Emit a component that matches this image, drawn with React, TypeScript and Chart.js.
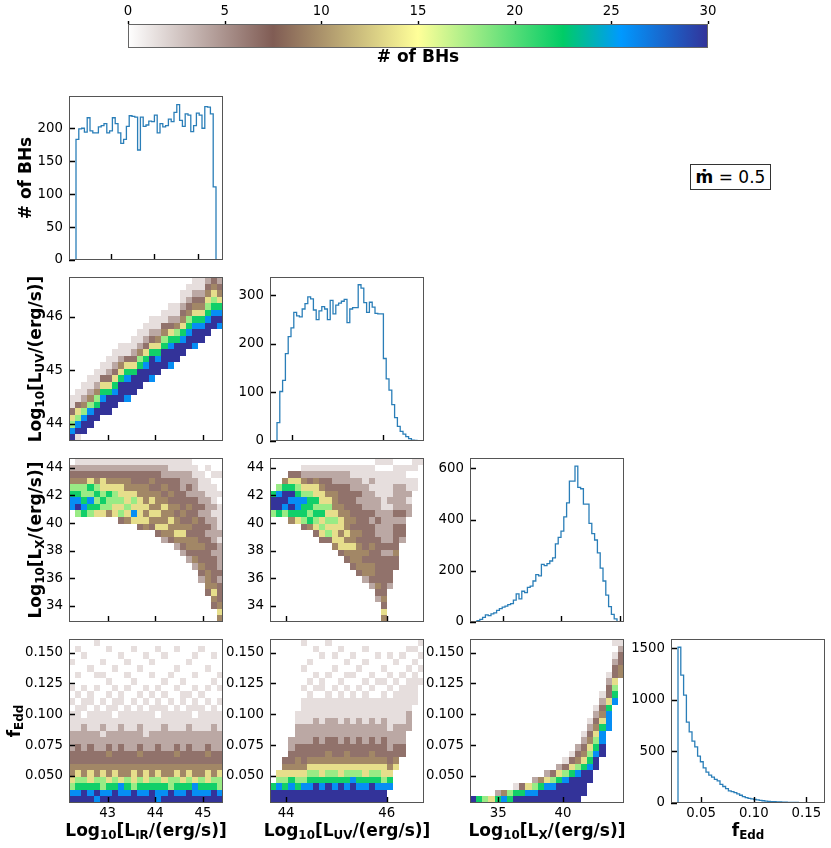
import React, { useEffect, useRef } from "react";
import Chart from "chart.js/auto";

Chart.defaults.font.family = "'DejaVu Sans', sans-serif";
Chart.defaults.font.size = 13.3;
Chart.defaults.color = "#000";

// value ranges (first and last bin edge) of the four quantities
const irRange = [42.19, 45.42];
const uvRange = [43.68, 46.74];
const lxRange = [32.82, 44.72];
const feddRange = [0.028, 0.161];

// 1D histograms (50 bins over the ranges above)
const irHist = [
  183, 199, 200, 194, 216, 196, 193, 193, 202, 204, 207, 193, 196, 216, 207, 193, 177, 183, 203, 219,
  218, 217, 167, 217, 203, 205, 211, 210, 220, 193, 207, 202, 204, 214, 210, 224, 236, 212, 203, 222,
  220, 195, 204, 223, 220, 200, 233, 232, 222, 111,
];
const uvHist = [
  38, 102, 125, 180, 215, 233, 265, 258, 256, 272, 283, 297, 293, 270, 250, 268, 277, 272, 250, 290,
  262, 280, 284, 288, 292, 244, 272, 275, 275, 322, 315, 285, 265, 286, 276, 263, 262, 262, 170, 128,
  105, 75, 48, 30, 20, 14, 9, 5, 2, 1,
];
const lxHist = [
  5, 10, 18, 28, 25, 32, 36, 45, 52, 58, 62, 68, 72, 85, 110, 90, 120, 115, 135, 140,
  160, 185, 180, 225, 220, 228, 238, 250, 305, 330, 355, 410, 465, 550, 550, 608, 525, 520, 460, 460,
  385, 345, 320, 270, 210, 160, 105, 60, 30, 12,
];
const feddHist = [
  1510, 1240, 1045, 785, 690, 600, 545, 455, 400, 340, 300, 270, 250, 230, 215, 180, 160, 140, 118, 110,
  100, 88, 75, 62, 52, 45, 40, 34, 30, 26, 22, 19, 16, 14, 12, 11, 10, 9, 8, 7,
  6, 5, 5, 4, 3, 3, 2, 2, 1, 1,
];
const histTops = { ir: 249, uv: 338, lx: 640, fedd: 1590 };

// ticks and their labels
const irTicks = [43, 44, 45];
const irTickLabels = ["43", "44", "45"];
const uvTicksX = [44, 46];
const uvTickLabelsX = ["44", "46"];
const uvTicksY = [44, 45, 46];
const uvTickLabelsY = ["44", "45", "46"];
const lxTicksX = [35, 40];
const lxTickLabelsX = ["35", "40"];
const lxHistTicks = [35, 40, 45];
const lxTicksY = [34, 36, 38, 40, 42, 44];
const lxTickLabelsY = ["34", "36", "38", "40", "42", "44"];
const feddTicksY = [0.05, 0.075, 0.1, 0.125, 0.15];
const feddTickLabelsY = ["0.050", "0.075", "0.100", "0.125", "0.150"];
const feddTicksX = [0.05, 0.1, 0.15];
const feddTickLabelsX = ["0.05", "0.10", "0.15"];
const irCountTicks = [0, 50, 100, 150, 200];
const uvCountTicks = [0, 100, 200, 300];
const lxCountTicks = [0, 200, 400, 600];
const feddCountTicks = [0, 500, 1000, 1500];
const cbarTicks = [0, 5, 10, 15, 20, 25, 30];

// 2D histograms, 25 x 25 cells. A digit is a colour level (see levelCounts).
// "Cols" grids: one string per x bin, read from the bottom y bin upward.
const levelCounts = [0, 1.5, 4, 6.5, 9.5, 13.5, 18, 22, 26, 30];

const uvVsIrCols = [
  "9865311", "19865311", "099864211", "0099864211", "00099764211",
  "000099875311", "0000999753211", "00000998753211", "000000999754211", "000000899875311",
  "0000000999753211", "00000000999764211", "000000000998753211", "0000000008999753211", "0000000000998754211",
  "00000000000999764311", "000000000008998753211", "000000000000999764211", "00000000000009987543211", "000000000000009987643211",
  "0000000000000089987543211", "0000000000000009987543211", "0000000000000000998765432", "0000000000000000099876543", "0000000000000000089875432",
];

const lxVsIrCols = [
  "0000000000000000088764320", "0000000000000000698764321", "0000000000000000787664321", "0000000000000000678675321", "0000000000000000576764321",
  "0000000000000000567655321", "0000000000000000466754321", "0000000000000000556654321", "0000000000000003656554321", "0000000000000004565544321",
  "0000000000000005856543321", "0000000000000035555443321", "0000000000000045454443321", "0000000000000034545434321", "0000000000000354544433321",
  "0000000000002454454343221", "0000000000003445443433211", "0000000000024544343333211", "0000000000234543433322211", "0000000002344343343232211",
  "0000000024344334333222110", "0000002343343333232211100", "0000344433333232222111010", "0034543333232222121110100", "4543332322221211110100100",
];

const lxVsUvCols = [
  "00000000000000006997", "000000000000000079986", "0000000000000000689974", "00000000000000047989753", "00000000000000057887653",
  "000000000000003677865421", "000000000000004767765321", "0000000000000356767554210", "000000000000356576554321", "000000000000365656543321",
  "000000000004555654443221", "000000000035545544333221", "000000000345454443333221", "000000003445443433332211", "000000034444343333232211",
  "000000244343333332222111", "0000023443343332322212110", "0002343333333223222111101", "4534333333232222211111101", "0000023333232222212111101",
  "0000000033433332322221110", "0000000000002332322221110", "0000000000000000221211010", "0000000000000000000011011", "0000000000000000000000001",
];

const feddVsIrCols = [
  "9865443322211101010001000", "9876543332211110100100010", "9976443322221011010000100", "9875543332211101100010000", "8976443322211110010100001",
  "9866543322121101000101000", "9875443432211110101000010", "9976543322211011010010000", "9885443332221101100000100", "9876443322211110010101000",
  "9965543322211101001000010", "9876443432221110100010000", "9875543322111101010000100", "9976443322211110100101000", "8876543332211011010000010",
  "9875443322221110101000100", "9966443322211101000100000", "9876543432211110010010010", "9875443322211101101000000", "9976543332221110100001000",
  "9885443322211011010100100", "9876443322211110100000010", "9875543432211101010010000", "9976443322221110001000100", "9866543322211101010100000",
];

const feddVsUvCols = [
  "997", "99865", "9976543", "9987543322", "99765443322211",
  "9986543332221111010010001", "9987654332221111101001000", "9997654333222111010100010", "9987554332221111011000100", "9997654433222111100100001",
  "9987654333222111010010100", "9997554332221111101000010", "9987654433222111010101000", "9998654332221111100100100", "9987654333222111010010000",
  "9987554332221111101001010", "9997654433222111010100000", "9987654332221111001000100", "9986554333222111101010000", "0087543322211111010100100",
  "0000054332221111101001000", "0000000332221111110100100", "0000000000022211111010010", "0000000000000001111101010", "0000000000000000001010101",
];

// "Rows" grid: one string per y bin (bottom first), read from the left x bin rightward.
const feddVsLxRows = [
  "9765787999999999990000000", "0000246778899999999000000", "0000000135678899999000000", "0000000000245678999900000", "0000000000002356789900000",
  "0000000000000023567890000", "0000000000000001345790000", "0000000000000000134689000", "0000000000000000023579000", "0000000000000000002468000",
  "0000000000000000001358000", "0000000000000000000247800", "0000000000000000000135800", "0000000000000000000024800", "0000000000000000000013700",
  "0000000000000000000002580", "0000000000000000000001370", "0000000000000000000000360", "0000000000000000000000250", "0000000000000000000000134",
  "0000000000000000000000034", "0000000000000000000000023", "0000000000000000000000013", "0000000000000000000000002", "0000000000000000000000011",
];

// ---------- layout ----------
const colLeft = [69, 270, 470, 671];
const rowTop = [96, 277, 458, 639];
const PW = 154;
const PH = 164;
const AXIS_W = 62;
const AXIS_H = 24;
const PAD_T = 16;
const PAD_R = 20;
const NBIN2D = 25;

// terrain_r colour map
const CMAP: [number, number[]][] = [
  [0, [255, 255, 255]],
  [0.25, [128, 92, 84]],
  [0.5, [255, 255, 153]],
  [0.75, [0, 204, 102]],
  [0.85, [0, 153, 255]],
  [1, [51, 51, 153]],
];

function cmap(v: number) {
  const t = Math.min(1, Math.max(0, v));
  for (let i = 1; i < CMAP.length; i++) {
    const [p0, c0] = CMAP[i - 1];
    const [p1, c1] = CMAP[i];
    if (t <= p1) {
      const f = (t - p0) / (p1 - p0);
      const c = c0.map((a, k) => Math.round(a + (c1[k] - a) * f));
      return `rgb(${c[0]},${c[1]},${c[2]})`;
    }
  }
  return "rgb(51,51,153)";
}

const toCols = (rows: string[]) =>
  Array.from({ length: NBIN2D }, (_, c) => rows.map((r) => r[c] || "0").join(""));

const withMargin = (r: number[]) => {
  const m = (r[1] - r[0]) * 0.05;
  return [r[0] - m, r[1] + m];
};

function stepPoints(counts: number[], lo: number, hi: number) {
  const w = (hi - lo) / counts.length;
  const pts = [{ x: lo, y: 0 }];
  counts.forEach((c, i) => {
    pts.push({ x: lo + i * w, y: c });
    pts.push({ x: lo + (i + 1) * w, y: c });
  });
  pts.push({ x: hi, y: 0 });
  return pts;
}

// frame and inward tick marks
function framePlugin(xTicks: number[], yTicks: number[]) {
  return {
    id: "frame",
    afterDraw(chart: any) {
      const { ctx, chartArea: a, scales } = chart;
      ctx.save();
      ctx.strokeStyle = "#000";
      ctx.lineWidth = 1.4;
      ctx.beginPath();
      xTicks.forEach((v) => {
        const x = Math.round(scales.x.getPixelForValue(v)) + 0.5;
        ctx.moveTo(x, a.bottom);
        ctx.lineTo(x, a.bottom - 6);
      });
      yTicks.forEach((v) => {
        const y = Math.round(scales.y.getPixelForValue(v)) + 0.5;
        ctx.moveTo(a.left, y);
        ctx.lineTo(a.left + 6, y);
      });
      ctx.stroke();
      ctx.strokeStyle = "#555";
      ctx.lineWidth = 1;
      ctx.strokeRect(a.left + 0.5, a.top + 0.5, a.right - a.left - 1, a.bottom - a.top - 1);
      ctx.restore();
    },
  };
}

function heatPlugin(cols: string[], xr: number[], yr: number[]) {
  return {
    id: "heat",
    beforeDatasetsDraw(chart: any) {
      const { ctx, chartArea: a, scales } = chart;
      const dx = (xr[1] - xr[0]) / NBIN2D;
      const dy = (yr[1] - yr[0]) / NBIN2D;
      ctx.save();
      ctx.beginPath();
      ctx.rect(a.left, a.top, a.right - a.left, a.bottom - a.top);
      ctx.clip();
      cols.forEach((col, c) => {
        const s = col.padEnd(NBIN2D, "0");
        for (let j = 0; j < NBIN2D; j++) {
          const lv = Number(s[j]);
          if (!lv) continue;
          const l = Math.round(scales.x.getPixelForValue(xr[0] + c * dx));
          const r = Math.round(scales.x.getPixelForValue(xr[0] + (c + 1) * dx));
          const t = Math.round(scales.y.getPixelForValue(yr[0] + (j + 1) * dy));
          const b = Math.round(scales.y.getPixelForValue(yr[0] + j * dy));
          ctx.fillStyle = cmap(levelCounts[lv] / 30);
          ctx.fillRect(l, t, r - l, b - t);
        }
      });
      ctx.restore();
    },
  };
}

function axes(
  xr: number[], yr: number[],
  xTicks: number[], xLabels: string[] | null,
  yTicks: number[], yLabels: string[]
) {
  return {
    x: {
      type: "linear",
      min: xr[0],
      max: xr[1],
      afterBuildTicks: (s: any) => { s.ticks = xTicks.map((v) => ({ value: v })); },
      afterFit: (s: any) => { s.height = AXIS_H; },
      grid: { display: false, drawTicks: false },
      border: { display: false },
      ticks: {
        display: !!xLabels,
        padding: 3,
        autoSkip: false,
        maxRotation: 0,
        callback: (_v: any, i: number) => (xLabels ? xLabels[i] : ""),
      },
    },
    y: {
      type: "linear",
      min: yr[0],
      max: yr[1],
      afterBuildTicks: (s: any) => { s.ticks = yTicks.map((v) => ({ value: v })); },
      afterFit: (s: any) => { s.width = AXIS_W; },
      grid: { display: false, drawTicks: false },
      border: { display: false },
      ticks: { padding: 6, autoSkip: false, callback: (_v: any, i: number) => yLabels[i] },
    },
  };
}

const common = {
  responsive: false,
  animation: false,
  events: [],
  layout: { padding: { top: PAD_T, right: PAD_R, left: 0, bottom: 0 } },
  plugins: { legend: { display: false }, tooltip: { enabled: false } },
};

function histConfig(
  counts: number[], range: number[], top: number,
  xTicks: number[], xLabels: string[] | null,
  yTicks: number[]
) {
  return {
    type: "line",
    data: {
      datasets: [
        {
          data: stepPoints(counts, range[0], range[1]),
          borderColor: "rgba(31,119,180,0.95)",
          borderWidth: 1.3,
          pointRadius: 0,
          fill: false,
          tension: 0,
        },
      ],
    },
    options: {
      ...common,
      scales: axes(withMargin(range), [0, top], xTicks, xLabels, yTicks, yTicks.map(String)),
    },
    plugins: [framePlugin(xTicks, yTicks)],
  };
}

function heatConfig(
  cols: string[], xr: number[], yr: number[],
  xTicks: number[], xLabels: string[] | null,
  yTicks: number[], yLabels: string[]
) {
  return {
    type: "scatter",
    data: { datasets: [] },
    options: { ...common, scales: axes(xr, yr, xTicks, xLabels, yTicks, yLabels) },
    plugins: [heatPlugin(cols, xr, yr), framePlugin(xTicks, yTicks)],
  };
}

const Panel: React.FC<{ col: number; row: number; make: () => any }> = ({ col, row, make }) => {
  const canvasRef = useRef<HTMLCanvasElement | null>(null);
  useEffect(() => {
    if (!canvasRef.current) return;
    const chart = new Chart(canvasRef.current, make());
    return () => chart.destroy();
  }, []);
  const w = AXIS_W + PW + PAD_R;
  const h = PAD_T + PH + AXIS_H;
  return (
    <canvas
      ref={canvasRef}
      width={w}
      height={h}
      style={{ position: "absolute", left: colLeft[col] - AXIS_W, top: rowTop[row] - PAD_T, width: w, height: h }}
    />
  );
};

const ColorBar: React.FC = () => {
  const canvasRef = useRef<HTMLCanvasElement | null>(null);
  useEffect(() => {
    if (!canvasRef.current) return;
    const chart = new Chart(canvasRef.current, {
      type: "scatter",
      data: { datasets: [] },
      options: {
        responsive: false,
        animation: false,
        events: [],
        layout: { padding: { top: 0, right: 30, left: 30, bottom: 12 } },
        plugins: { legend: { display: false }, tooltip: { enabled: false } },
        scales: {
          x: {
            type: "linear",
            position: "top",
            min: 0,
            max: 30,
            afterBuildTicks: (s: any) => { s.ticks = cbarTicks.map((v) => ({ value: v })); },
            afterFit: (s: any) => { s.height = 24; },
            grid: { display: false, drawTicks: false },
            border: { display: false },
            ticks: { padding: 4, maxRotation: 0, autoSkip: false },
          },
          y: { display: false, min: 0, max: 1 },
        },
      } as any,
      plugins: [
        {
          id: "cbar",
          afterDraw(c: any) {
            const { ctx, chartArea: a, scales } = c;
            const x0 = scales.x.getPixelForValue(0);
            const x1 = scales.x.getPixelForValue(30);
            const g = ctx.createLinearGradient(x0, 0, x1, 0);
            CMAP.forEach(([p]) => g.addColorStop(p, cmap(p)));
            ctx.save();
            ctx.fillStyle = g;
            ctx.fillRect(a.left, a.top, a.right - a.left, a.bottom - a.top);
            ctx.strokeStyle = "#666";
            ctx.lineWidth = 1;
            ctx.strokeRect(a.left + 0.5, a.top + 0.5, a.right - a.left - 1, a.bottom - a.top - 1);
            ctx.strokeStyle = "#000";
            ctx.lineWidth = 1.4;
            ctx.beginPath();
            cbarTicks.forEach((v) => {
              const x = Math.round(scales.x.getPixelForValue(v)) + 0.5;
              ctx.moveTo(x, a.top);
              ctx.lineTo(x, a.top - 3);
            });
            ctx.stroke();
            ctx.restore();
          },
        },
      ],
    });
    return () => chart.destroy();
  }, []);
  return (
    <canvas ref={canvasRef} width={640} height={60} style={{ position: "absolute", left: 98, top: 0, width: 640, height: 60 }} />
  );
};

const sub = (t: string) => (
  <span style={{ fontSize: "0.7em", verticalAlign: "-0.3em", lineHeight: 0 }}>{t}</span>
);

const Label: React.FC<{ x: number; y: number; rotate?: boolean; children: React.ReactNode }> = ({ x, y, rotate, children }) => (
  <div
    style={{
      position: "absolute",
      left: x,
      top: y,
      transform: `translate(-50%, -50%)${rotate ? " rotate(-90deg)" : ""}`,
      whiteSpace: "nowrap",
      fontFamily: "'DejaVu Sans', sans-serif",
      fontWeight: "bold",
      fontSize: 17,
      lineHeight: "17px",
      color: "#000",
    }}
  >
    {children}
  </div>
);

const logLabel = (s: string) => (
  <>
    Log{sub("10")}[L{sub(s)}/(erg/s)]
  </>
);

export default function App() {
  return (
    <div style={{ position: "fixed", left: 0, top: 0, width: 831, height: 848, background: "#fff", overflow: "hidden" }}>
      <ColorBar />
      <Label x={418} y={56}># of BHs</Label>

      {/* row 0 */}
      <Panel col={0} row={0} make={() => histConfig(irHist, irRange, histTops.ir, irTicks, null, irCountTicks)} />

      {/* row 1 */}
      <Panel col={0} row={1} make={() => heatConfig(uvVsIrCols, irRange, uvRange, irTicks, null, uvTicksY, uvTickLabelsY)} />
      <Panel col={1} row={1} make={() => histConfig(uvHist, uvRange, histTops.uv, uvTicksX, null, uvCountTicks)} />

      {/* row 2 */}
      <Panel col={0} row={2} make={() => heatConfig(lxVsIrCols, irRange, lxRange, irTicks, null, lxTicksY, lxTickLabelsY)} />
      <Panel col={1} row={2} make={() => heatConfig(lxVsUvCols, uvRange, lxRange, uvTicksX, null, lxTicksY, lxTickLabelsY)} />
      <Panel col={2} row={2} make={() => histConfig(lxHist, lxRange, histTops.lx, lxHistTicks, null, lxCountTicks)} />

      {/* row 3 */}
      <Panel col={0} row={3} make={() => heatConfig(feddVsIrCols, irRange, feddRange, irTicks, irTickLabels, feddTicksY, feddTickLabelsY)} />
      <Panel col={1} row={3} make={() => heatConfig(feddVsUvCols, uvRange, feddRange, uvTicksX, uvTickLabelsX, feddTicksY, feddTickLabelsY)} />
      <Panel col={2} row={3} make={() => heatConfig(toCols(feddVsLxRows), lxRange, feddRange, lxTicksX, lxTickLabelsX, feddTicksY, feddTickLabelsY)} />
      <Panel col={3} row={3} make={() => histConfig(feddHist, feddRange, histTops.fedd, feddTicksX, feddTickLabelsX, feddCountTicks)} />

      {/* axis titles */}
      <Label x={25} y={178} rotate># of BHs</Label>
      <Label x={34.5} y={359} rotate>{logLabel("UV")}</Label>
      <Label x={34.5} y={540} rotate>{logLabel("X")}</Label>
      <Label x={14} y={721} rotate>f{sub("Edd")}</Label>
      <Label x={146} y={830}>{logLabel("IR")}</Label>
      <Label x={347} y={830}>{logLabel("UV")}</Label>
      <Label x={547} y={830}>{logLabel("X")}</Label>
      <Label x={748} y={830}>f{sub("Edd")}</Label>

      {/* legend */}
      <div
        style={{
          position: "absolute",
          left: 690,
          top: 164,
          width: 81,
          height: 26,
          boxSizing: "border-box",
          border: "1px solid #333",
          background: "#fff",
          display: "flex",
          alignItems: "center",
          justifyContent: "center",
          fontFamily: "'DejaVu Sans', sans-serif",
          fontSize: 17,
          color: "#000",
          whiteSpace: "nowrap",
        }}
      >
        <b>ṁ</b>&nbsp;= 0.5
      </div>
    </div>
  );
}
